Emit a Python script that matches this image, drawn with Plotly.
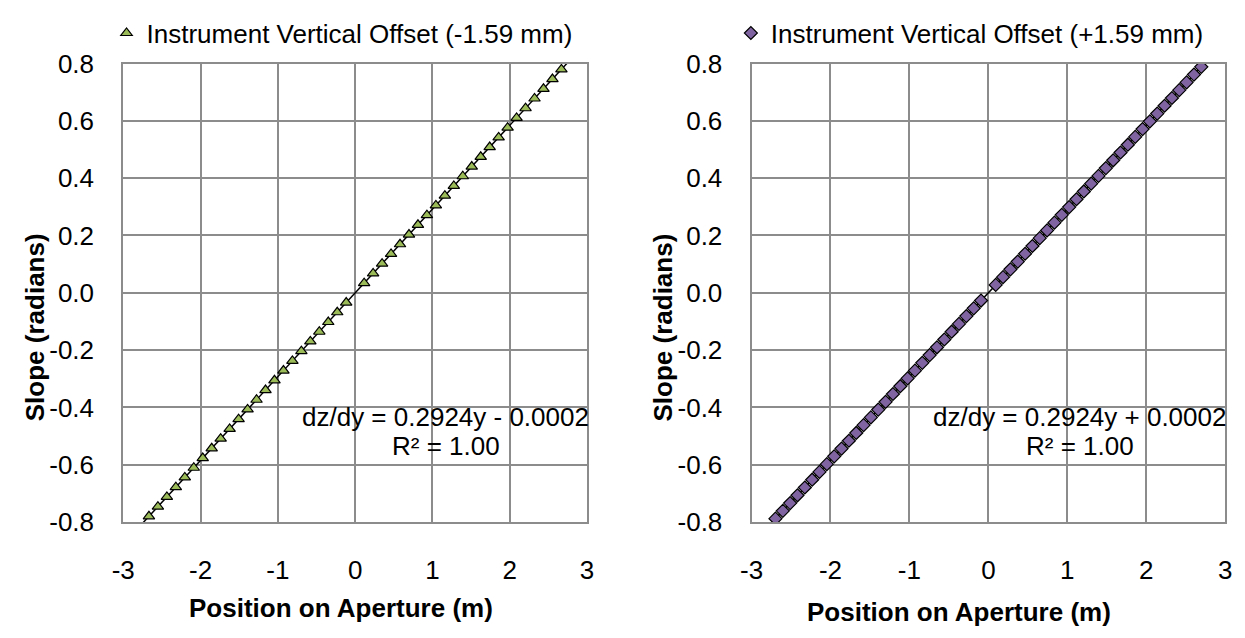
import plotly.graph_objects as go

# ---------------- data ----------------
# Left panel: instrument vertical offset -1.59 mm (position on aperture, slope)
left_x = [-2.668, -2.552, -2.436, -2.320, -2.204, -2.088, -1.972, -1.856, -1.740, -1.624,
          -1.508, -1.392, -1.276, -1.160, -1.044, -0.928, -0.812, -0.696, -0.580, -0.464,
          -0.348, -0.232, -0.116,
          0.116, 0.232, 0.348, 0.464, 0.580, 0.696, 0.812, 0.928, 1.044, 1.160,
          1.276, 1.392, 1.508, 1.624, 1.740, 1.856, 1.972, 2.088, 2.204, 2.320,
          2.436, 2.552, 2.668]
left_y = [-0.7803, -0.7464, -0.7125, -0.6786, -0.6446, -0.6107, -0.5768, -0.5429, -0.5090, -0.4751,
          -0.4411, -0.4072, -0.3733, -0.3394, -0.3055, -0.2715, -0.2376, -0.2037, -0.1698, -0.1359,
          -0.1020, -0.0680, -0.0341,
          0.0337, 0.0676, 0.1016, 0.1355, 0.1694, 0.2033, 0.2372, 0.2711, 0.3051, 0.3390,
          0.3729, 0.4068, 0.4407, 0.4747, 0.5086, 0.5425, 0.5764, 0.6103, 0.6442, 0.6782,
          0.7121, 0.7460, 0.7799]

# Right panel: instrument vertical offset +1.59 mm
right_x = [-2.697, -2.604, -2.511, -2.418, -2.325, -2.232, -2.139, -2.046, -1.953, -1.860,
           -1.767, -1.674, -1.581, -1.488, -1.395, -1.302, -1.209, -1.116, -1.023, -0.930,
           -0.837, -0.744, -0.651, -0.558, -0.465, -0.372, -0.279, -0.186, -0.093,
           0.093, 0.186, 0.279, 0.372, 0.465, 0.558, 0.651, 0.744, 0.837, 0.930,
           1.023, 1.116, 1.209, 1.302, 1.395, 1.488, 1.581, 1.674, 1.767, 1.860,
           1.953, 2.046, 2.139, 2.232, 2.325, 2.418, 2.511, 2.604, 2.697]
right_y = [-0.7884, -0.7612, -0.7340, -0.7068, -0.6796, -0.6524, -0.6252, -0.5981, -0.5709, -0.5437,
           -0.5165, -0.4893, -0.4621, -0.4349, -0.4077, -0.3805, -0.3533, -0.3261, -0.2989, -0.2717,
           -0.2445, -0.2173, -0.1902, -0.1630, -0.1358, -0.1086, -0.0814, -0.0542, -0.0270,
           0.0274, 0.0546, 0.0818, 0.1090, 0.1362, 0.1634, 0.1906, 0.2177, 0.2449, 0.2721,
           0.2993, 0.3265, 0.3537, 0.3809, 0.4081, 0.4353, 0.4625, 0.4897, 0.5169, 0.5441,
           0.5713, 0.5985, 0.6256, 0.6528, 0.6800, 0.7072, 0.7344, 0.7616, 0.7888]

# Linear trendlines (dz/dy = slope*y + intercept)
left_slope, left_intercept = 0.2924, -0.0002
right_slope, right_intercept = 0.2924, 0.0002
trend_x = [-2.8, 2.8]

left_name = "Instrument Vertical Offset (-1.59 mm)"
right_name = "Instrument Vertical Offset (+1.59 mm)"
left_eq = "dz/dy = 0.2924y - 0.0002"
right_eq = "dz/dy = 0.2924y + 0.0002"
r2_text = "R² = 1.00"

x_tick_vals = [-3, -2, -1, 0, 1, 2, 3]
x_tick_text = ["-3", "-2", "-1", "0", "1", "2", "3"]
y_tick_vals = [-0.8, -0.6, -0.4, -0.2, 0.0, 0.2, 0.4, 0.6, 0.8]
y_tick_text = ["-0.8", "-0.6", "-0.4", "-0.2", "0.0", "0.2", "0.4", "0.6", "0.8"]

x_title = "Position on Aperture (m)"
y_title = "Slope (radians)"

# ---------------- styling ----------------
W, H = 1245, 638
FONT = "Liberation Sans, Arial, sans-serif"
FS = 26
GRID = "#8c8c8c"
GREEN = "#9BBB59"
PURPLE = "#8064A2"


def px(x):
    return x / W


def py(y):
    return 1 - y / H


fig = go.Figure()

# trendlines (drawn first so markers sit on top)
fig.add_trace(go.Scatter(
    x=trend_x, y=[left_slope * v + left_intercept for v in trend_x],
    mode="lines", line=dict(color="black", width=1.5),
    showlegend=False, hoverinfo="skip", xaxis="x", yaxis="y"))
fig.add_trace(go.Scatter(
    x=trend_x, y=[right_slope * v + right_intercept for v in trend_x],
    mode="lines", line=dict(color="black", width=1.5),
    showlegend=False, hoverinfo="skip", xaxis="x2", yaxis="y2"))

fig.add_trace(go.Scatter(
    x=left_x, y=left_y, mode="markers", name=left_name,
    marker=dict(symbol="triangle-up", size=10, color=GREEN,
                line=dict(color="black", width=1.2)),
    xaxis="x", yaxis="y", legend="legend"))
fig.add_trace(go.Scatter(
    x=right_x, y=right_y, mode="markers", name=right_name,
    marker=dict(symbol="diamond", size=10, color=PURPLE,
                line=dict(color="black", width=1.2)),
    xaxis="x2", yaxis="y2", legend="legend2"))

plot_top, plot_bottom = 51, 532
left_l, left_r = 113, 584
right_l, right_r = 751, 1232

common_x = dict(range=[-3, 3], tickvals=x_tick_vals, ticktext=x_tick_text,
                showgrid=True, gridcolor=GRID, gridwidth=1.5, zeroline=False,
                showline=True, linecolor=GRID, linewidth=2, mirror=True,
                ticks="", ticklabelstandoff=24,
                tickfont=dict(family=FONT, size=FS, color="black"), fixedrange=True)
common_y = dict(range=[-0.8, 0.8], tickvals=y_tick_vals, ticktext=y_tick_text,
                showgrid=True, gridcolor=GRID, gridwidth=1.5, zeroline=False,
                showline=True, linecolor=GRID, linewidth=2, mirror=True,
                ticks="", ticklabelstandoff=22,
                tickfont=dict(family=FONT, size=FS, color="black"), fixedrange=True)

dom_y = [py(plot_bottom), py(plot_top)]
fig.update_layout(
    width=W, height=H, autosize=False,
    margin=dict(l=0, r=0, t=0, b=0),
    paper_bgcolor="white", plot_bgcolor="white",
    font=dict(family=FONT, size=FS, color="black"),
    xaxis=dict(domain=[px(left_l), px(left_r)], anchor="y", **common_x),
    yaxis=dict(domain=dom_y, anchor="x", **common_y),
    xaxis2=dict(domain=[px(right_l), px(right_r)], anchor="y2", **common_x),
    yaxis2=dict(domain=dom_y, anchor="x2", **common_y),
    legend=dict(x=px(96), y=py(19), xanchor="left", yanchor="middle",
                bgcolor="rgba(0,0,0,0)", borderwidth=0,
                font=dict(family=FONT, size=FS, color="black")),
    legend2=dict(x=px(730), y=py(19), xanchor="left", yanchor="middle",
                 bgcolor="rgba(0,0,0,0)", borderwidth=0,
                 font=dict(family=FONT, size=FS, color="black")),
    showlegend=True,
)

ann = []
# equations
ann.append(dict(text=left_eq, x=px(440), y=py(422), xref="paper", yref="paper",
                showarrow=False, xanchor="center", yanchor="middle",
                font=dict(family=FONT, size=FS, color="black")))
ann.append(dict(text=r2_text, x=px(441), y=py(452), xref="paper", yref="paper",
                showarrow=False, xanchor="center", yanchor="middle",
                font=dict(family=FONT, size=FS, color="black")))
ann.append(dict(text=right_eq, x=px(1084), y=py(422), xref="paper", yref="paper",
                showarrow=False, xanchor="center", yanchor="middle",
                font=dict(family=FONT, size=FS, color="black")))
ann.append(dict(text=r2_text, x=px(1085), y=py(452), xref="paper", yref="paper",
                showarrow=False, xanchor="center", yanchor="middle",
                font=dict(family=FONT, size=FS, color="black")))
# axis titles
for xc, yc in [(334, 622), (962, 626)]:
    ann.append(dict(text="<b>" + x_title + "</b>", x=px(xc), y=py(yc),
                    xref="paper", yref="paper", showarrow=False,
                    xanchor="center", yanchor="middle",
                    font=dict(family=FONT, size=FS, color="black")))
for xc, yc in [(23, 328), (661, 328)]:
    ann.append(dict(text="<b>" + y_title + "</b>", x=px(xc), y=py(yc),
                    xref="paper", yref="paper", showarrow=False, textangle=-90,
                    xanchor="center", yanchor="middle",
                    font=dict(family=FONT, size=FS, color="black")))
fig.update_layout(annotations=ann)

fig.write_html("out.html")
